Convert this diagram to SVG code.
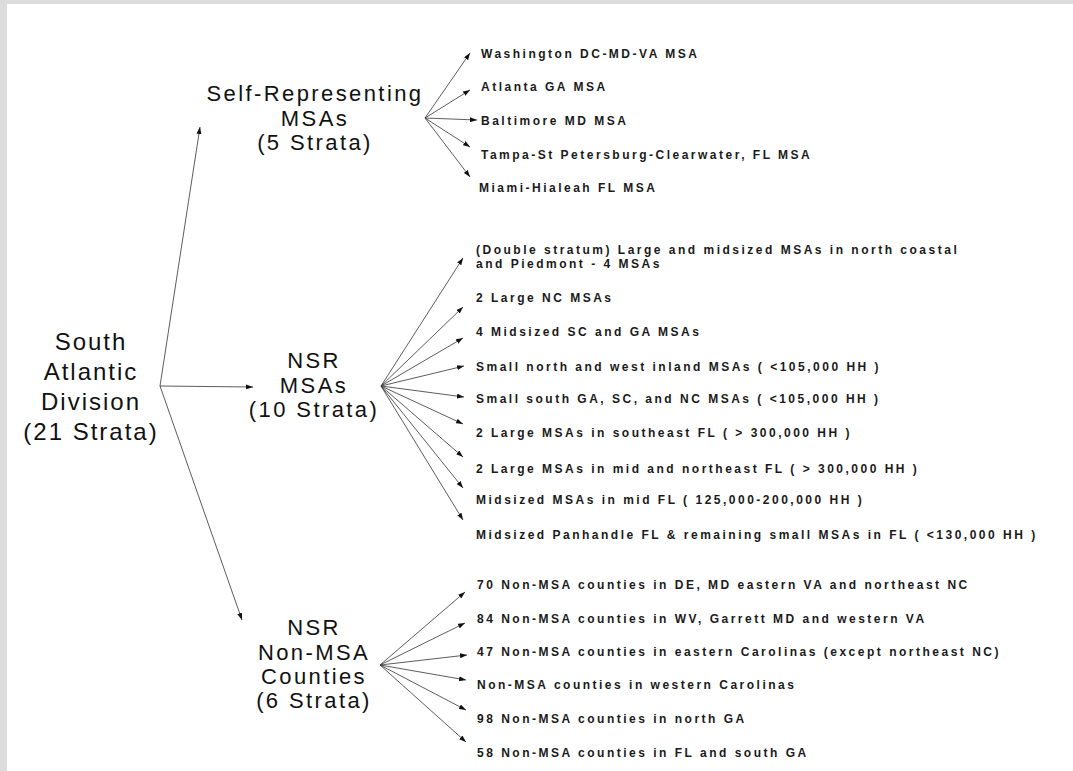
<svg xmlns="http://www.w3.org/2000/svg" width="1073" height="771" viewBox="0 0 1073 771">
<defs>
<marker id="ah" viewBox="0 0 7 5" refX="7" refY="2.5" markerWidth="7" markerHeight="5" markerUnits="userSpaceOnUse" orient="auto">
<path d="M0,0 L7,2.5 L0,5 z" fill="#111"/>
</marker>
<style>
.lbl{font-family:"Liberation Sans",Arial,sans-serif;font-size:22px;letter-spacing:2.4px;fill:#111;text-anchor:middle}
.big{font-size:24px;letter-spacing:2px}
.item{font-family:"Liberation Sans",Arial,sans-serif;font-size:12px;font-weight:bold;letter-spacing:2.5px;fill:#1a1a1a}
.c line{stroke:#333;stroke-width:0.8;marker-end:url(#ah)}
</style>
</defs>
<rect width="1073" height="771" fill="#ffffff"/>
<rect x="0" y="0" width="1073" height="4" fill="#dcdcdc"/>
<rect x="0" y="0" width="7" height="771" fill="#dcdcdc"/>

<g id="connectors" class="c">
<line x1="160" y1="386" x2="200" y2="127"/>
<line x1="160" y1="386" x2="253" y2="387"/>
<line x1="160" y1="386" x2="242" y2="620"/>
<line x1="425" y1="118" x2="470" y2="53"/>
<line x1="425" y1="118" x2="470" y2="90"/>
<line x1="425" y1="118" x2="477" y2="120"/>
<line x1="425" y1="118" x2="470" y2="147"/>
<line x1="425" y1="118" x2="470" y2="177"/>
<line x1="381" y1="386" x2="463" y2="258"/>
<line x1="381" y1="386" x2="463" y2="307"/>
<line x1="381" y1="386" x2="463" y2="338"/>
<line x1="381" y1="386" x2="464" y2="366"/>
<line x1="381" y1="386" x2="464" y2="397"/>
<line x1="381" y1="386" x2="463" y2="424"/>
<line x1="381" y1="386" x2="463" y2="457"/>
<line x1="381" y1="386" x2="463" y2="488"/>
<line x1="381" y1="386" x2="463" y2="520"/>
<line x1="380" y1="665" x2="465" y2="592"/>
<line x1="380" y1="665" x2="465" y2="623"/>
<line x1="380" y1="665" x2="467" y2="655"/>
<line x1="380" y1="665" x2="466" y2="680"/>
<line x1="380" y1="665" x2="466" y2="710"/>
<line x1="380" y1="665" x2="466" y2="742"/>
</g>

<g id="root">
<text class="lbl big" x="91" y="350">South</text>
<text class="lbl big" x="91" y="380">Atlantic</text>
<text class="lbl big" x="91" y="410">Division</text>
<text class="lbl big" x="91" y="440">(21 Strata)</text>
</g>

<g id="self-rep">
<text class="lbl" x="315" y="101">Self-Representing</text>
<text class="lbl" x="315" y="126">MSAs</text>
<text class="lbl" x="315" y="150">(5 Strata)</text>
</g>

<g id="nsr-msas">
<text class="lbl" x="314" y="368">NSR</text>
<text class="lbl" x="314" y="393">MSAs</text>
<text class="lbl" x="314" y="417">(10 Strata)</text>
</g>

<g id="nsr-nonmsa">
<text class="lbl" x="314" y="635">NSR</text>
<text class="lbl" x="314" y="660">Non-MSA</text>
<text class="lbl" x="314" y="684">Counties</text>
<text class="lbl" x="314" y="708">(6 Strata)</text>
</g>

<g id="sr-items">
<text class="item" x="481" y="58">Washington DC-MD-VA MSA</text>
<text class="item" x="481" y="91">Atlanta GA MSA</text>
<text class="item" x="481" y="125">Baltimore MD MSA</text>
<text class="item" x="481" y="159">Tampa-St Petersburg-Clearwater, FL MSA</text>
<text class="item" x="479" y="192">Miami-Hialeah FL MSA</text>
</g>

<g id="msa-items">
<text class="item" x="476" y="254">(Double stratum) Large and midsized MSAs in north coastal</text>
<text class="item" x="476" y="268">and Piedmont - 4 MSAs</text>
<text class="item" x="476" y="302">2 Large NC MSAs</text>
<text class="item" x="476" y="336">4 Midsized SC and GA MSAs</text>
<text class="item" x="476" y="371">Small north and west inland MSAs ( &lt;105,000 HH )</text>
<text class="item" x="476" y="403">Small south GA, SC, and NC MSAs ( &lt;105,000 HH )</text>
<text class="item" x="476" y="437">2 Large MSAs in southeast FL ( &gt; 300,000 HH )</text>
<text class="item" x="476" y="473">2 Large MSAs in mid and northeast FL ( &gt; 300,000 HH )</text>
<text class="item" x="476" y="504">Midsized MSAs in mid FL ( 125,000-200,000 HH )</text>
<text class="item" x="476" y="539">Midsized Panhandle FL &amp; remaining small MSAs in FL ( &lt;130,000 HH )</text>
</g>

<g id="county-items">
<text class="item" x="477" y="589">70 Non-MSA counties in DE, MD eastern VA and northeast NC</text>
<text class="item" x="477" y="623">84 Non-MSA counties in WV, Garrett MD and western VA</text>
<text class="item" x="477" y="656">47 Non-MSA counties in eastern Carolinas (except northeast NC)</text>
<text class="item" x="477" y="689">Non-MSA counties in western Carolinas</text>
<text class="item" x="477" y="723">98 Non-MSA counties in north GA</text>
<text class="item" x="477" y="757">58 Non-MSA counties in FL and south GA</text>
</g>
</svg>
